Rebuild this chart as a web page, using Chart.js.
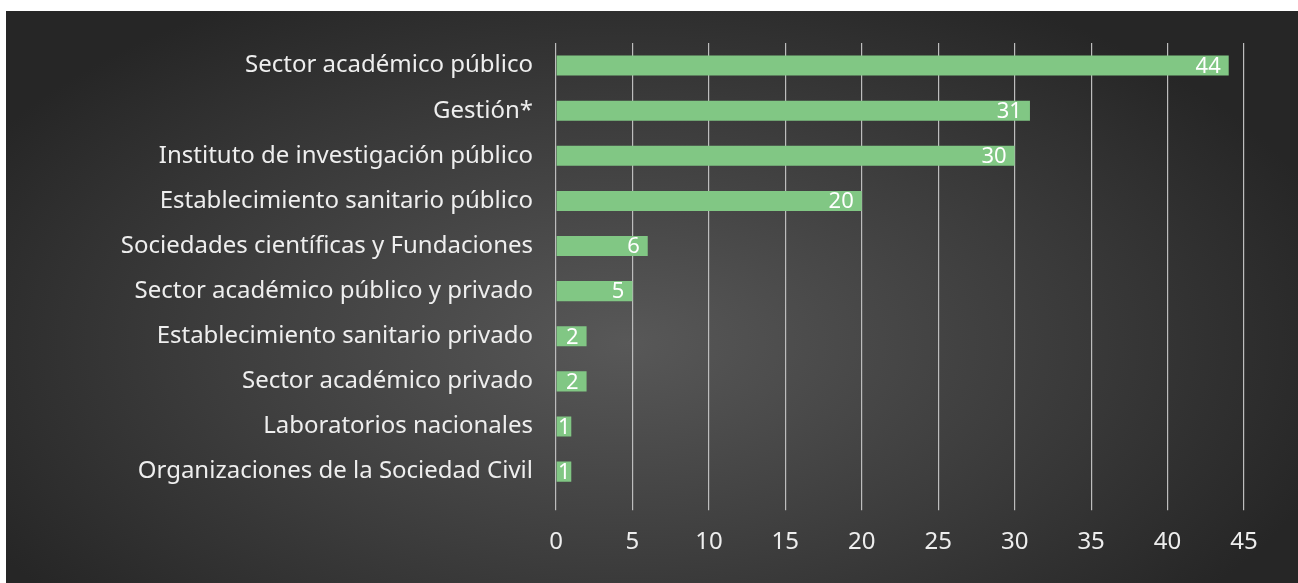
<!DOCTYPE html>
<html>
<head>
<meta charset="utf-8">
<script src="https://cdn.jsdelivr.net/npm/chart.js@4/dist/chart.umd.min.js"></script>
<style>
  html, body { margin: 0; padding: 0; background: #fff; }
  #frame {
    position: absolute; left: 6px; top: 11px; width: 1292px; height: 572px;
    background: radial-gradient(ellipse 70% 85% at 48% 58%, #585858 0%, #3d3d3d 45%, #262626 82%);
  }
</style>
</head>
<body>
<div id="frame"><canvas id="chart" width="1292" height="572"></canvas></div>
<script>
const categories = [
  "Sector académico público",
  "Gestión*",
  "Instituto de investigación público",
  "Establecimiento sanitario público",
  "Sociedades científicas y Fundaciones",
  "Sector académico público y privado",
  "Establecimiento sanitario privado",
  "Sector académico privado",
  "Laboratorios nacionales",
  "Organizaciones de la Sociedad Civil"
];
const values = [44, 31, 30, 20, 6, 5, 2, 2, 1, 1];
const xTicks = [0, 5, 10, 15, 20, 25, 30, 35, 40, 45];

const FONT = "'Noto Sans', 'Open Sans', sans-serif";

// white value labels at the end of each bar
const barLabels = {
  id: "barLabels",
  afterDatasetsDraw(chart) {
    const ctx = chart.ctx;
    const meta = chart.getDatasetMeta(0);
    const xs = chart.scales.x;
    ctx.save();
    ctx.font = "22px " + FONT;
    ctx.fillStyle = "#ffffff";
    ctx.textAlign = "right";
    ctx.textBaseline = "middle";
    meta.data.forEach((bar, i) => {
      const txt = String(values[i]);
      const w = ctx.measureText(txt).width;
      const base = xs.getPixelForValue(0);
      const x = Math.max(bar.x - 8, base + w + 2);
      ctx.fillText(txt, x, bar.y + 1);
    });
    ctx.restore();
  }
};

new Chart(document.getElementById("chart").getContext("2d"), {
  type: "bar",
  data: {
    labels: categories,
    datasets: [{
      data: values,
      backgroundColor: "#81c784",
      borderWidth: 0,
      barPercentage: 0.89,
      categoryPercentage: 0.5
    }]
  },
  options: {
    indexAxis: "y",
    responsive: false,
    animation: { duration: 0 },
    layout: { padding: { left: 0, right: 54, top: 32, bottom: 8 } },
    plugins: { legend: { display: false }, tooltip: { enabled: false } },
    scales: {
      x: {
        min: 0, max: 45,
        z: 1,
        afterBuildTicks(scale) { scale.ticks = xTicks.map(v => ({ value: v })); },
        grid: { color: "#bdbdbd", lineWidth: 1.2, tickLength: 16, drawTicks: true },
        border: { display: false },
        ticks: { color: "#eeeeee", font: { family: FONT, size: 24 }, padding: 18 }
      },
      y: {
        afterFit(scale) { scale.width = 550; },
        grid: { display: false },
        border: { display: false },
        ticks: { color: "#eeeeee", font: { family: FONT, size: 24 }, padding: 15 }
      }
    }
  },
  plugins: [barLabels]
});
</script>
</body>
</html>
